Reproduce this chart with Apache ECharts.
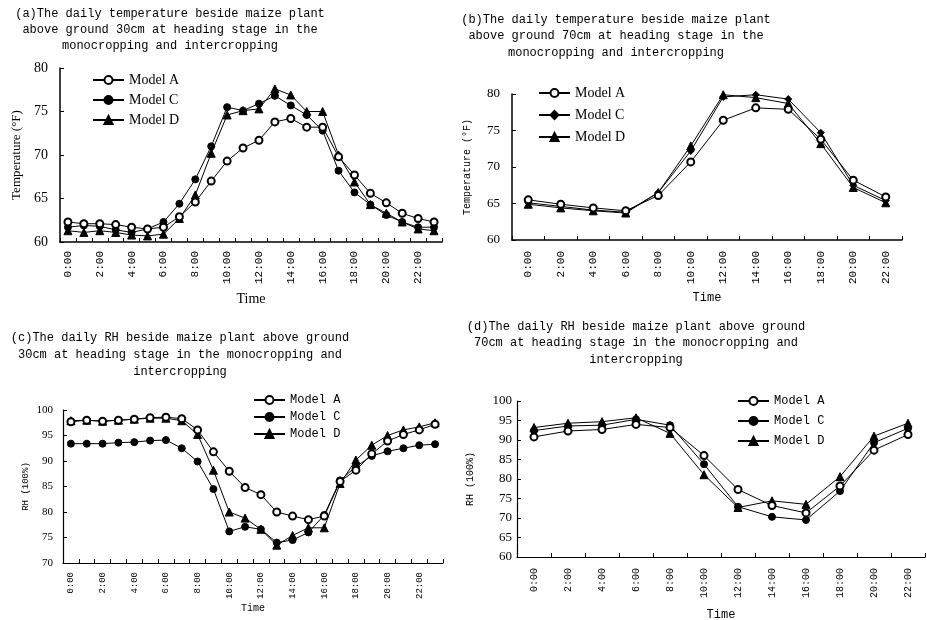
<!DOCTYPE html>
<html>
<head>
<meta charset="utf-8">
<script src="https://cdn.jsdelivr.net/npm/echarts@6/dist/echarts.min.js"></script>
<style>
  html, body { margin: 0; padding: 0; background: #fff; }
  #main { width: 927px; height: 620px; }
</style>
</head>
<body>
<div id="main"></div>
<script>
//============================================= data =============================================

var hours24 = ['0:00', '1:00', '2:00', '3:00', '4:00', '5:00', '6:00', '7:00', '8:00', '9:00', '10:00', '11:00',
    '12:00', '13:00', '14:00', '15:00', '16:00', '17:00', '18:00', '19:00', '20:00', '21:00', '22:00', '23:00'];
var hours12 = ['0:00', '2:00', '4:00', '6:00', '8:00', '10:00', '12:00', '14:00', '16:00', '18:00', '20:00', '22:00'];

// (a) temperature, 30cm
var tempA30 = [62.3, 62.1, 62.1, 62.0, 61.7, 61.5, 61.7, 62.9, 64.6, 67.0, 69.3, 70.8,
    71.7, 73.8, 74.2, 73.2, 73.2, 69.8, 67.7, 65.6, 64.5, 63.3, 62.7, 62.3];
var tempC30 = [61.7, 61.9, 61.8, 61.4, 61.1, 61.5, 62.3, 64.4, 67.2, 71.0, 75.5, 75.1,
    75.9, 76.8, 75.7, 74.6, 72.8, 68.2, 65.7, 64.3, 63.1, 62.3, 61.7, 61.7];
var tempD30 = [61.3, 61.1, 61.3, 61.1, 60.8, 60.7, 60.9, 62.7, 65.4, 70.2, 74.6, 75.1,
    75.3, 77.6, 76.9, 75.0, 75.0, 70.0, 66.9, 64.3, 63.3, 62.3, 61.5, 61.3];

// (b) temperature, 70cm
var tempA70 = [65.5, 64.9, 64.4, 64.0, 66.1, 70.7, 76.4, 78.1, 77.9, 73.8, 68.2, 65.9];
var tempC70 = [65.1, 64.6, 64.1, 63.8, 66.5, 72.2, 79.6, 79.9, 79.3, 74.7, 67.5, 65.4];
var tempD70 = [64.9, 64.4, 64.0, 63.7, 66.5, 72.9, 79.9, 79.5, 78.7, 73.2, 67.2, 65.1];

// (c) RH, 30cm
var rhA30 = [97.7, 98.0, 97.8, 98.0, 98.2, 98.5, 98.6, 98.3, 96.1, 91.8, 88.0, 84.8,
    83.4, 80.0, 79.2, 78.5, 79.2, 86.0, 88.2, 91.4, 93.9, 95.2, 96.1, 97.2];
var rhC30 = [93.4, 93.4, 93.4, 93.6, 93.7, 94.0, 94.1, 92.5, 89.9, 84.5, 76.2, 77.1,
    76.6, 74.0, 74.5, 76.0, 79.4, 86.2, 88.9, 91.0, 91.9, 92.5, 93.1, 93.3];
var rhD30 = [97.9, 98.0, 97.8, 98.0, 98.2, 98.4, 98.4, 97.9, 95.2, 88.2, 80.0, 78.8,
    76.6, 73.5, 75.4, 76.9, 76.9, 85.6, 90.2, 93.1, 95.0, 96.1, 96.7, 97.5];

// (d) RH, 70cm
var rhA70 = [90.8, 92.3, 92.7, 94.0, 93.2, 86.0, 77.3, 73.2, 71.3, 78.2, 87.4, 91.4];
var rhC70 = [92.4, 93.6, 93.8, 95.3, 93.8, 83.8, 72.9, 70.3, 69.5, 76.9, 89.3, 93.0];
var rhD70 = [93.2, 94.3, 94.7, 95.7, 91.7, 81.1, 72.7, 74.4, 73.5, 80.6, 91.0, 94.3];

var modelNames = ['Model A', 'Model C', 'Model D'];

var titles = [
    '(a)The daily temperature beside maize plant\nabove ground 30cm at heading stage in the\nmonocropping and intercropping',
    '(b)The daily temperature beside maize plant\nabove ground 70cm at heading stage in the\nmonocropping and intercropping',
    '(c)The daily RH beside maize plant above ground\n30cm at heading stage in the monocropping and\nintercropping',
    '(d)The daily RH beside maize plant above ground\n70cm at heading stage in the monocropping and\nintercropping'
];

//============================================= chart =============================================

var MONO = '"Liberation Mono", "DejaVu Sans Mono", monospace';
var SERIF = '"Liberation Serif", "DejaVu Serif", serif';

var chart = echarts.init(document.getElementById('main'), null, { renderer: 'canvas' });

// per-panel layout
var panels = [
    { key: 'a', grid: { left: 60, top: 68, width: 382, height: 174 }, cats: hours24, labelInterval: 1, axisW: 1.5,
      yMin: 60, yMax: 80, yName: 'Temperature (°F)', yNameFont: { fontFamily: SERIF, fontSize: 13 }, yNameGap: 37,
      yLabel: { fontFamily: SERIF, fontSize: 14, margin: 12 },
      xLabel: { fontFamily: MONO, fontSize: 11, margin: 9 },
      xName: 'Time', xNameFont: { fontFamily: SERIF, fontSize: 14 }, xNameGap: 50,
      title: { x: 170, top: 6, lh: 16 },
      legend: { left: 92, top: 73, font: { fontFamily: SERIF, fontSize: 14 }, gap: 6 },
      data: [tempA30, tempC30, tempD30], symbols: ['emptyCircle', 'circle', 'triangle'] },
    { key: 'b', grid: { left: 512, top: 94, width: 390, height: 146 }, cats: hours12, labelInterval: 0, axisW: 1.5,
      yMin: 60, yMax: 80, yName: 'Temperature (°F)', yNameFont: { fontFamily: MONO, fontSize: 10 }, yNameGap: 40,
      yLabel: { fontFamily: SERIF, fontSize: 13, margin: 12 },
      xLabel: { fontFamily: MONO, fontSize: 11, margin: 11 },
      xName: 'Time', xNameFont: { fontFamily: MONO, fontSize: 12 }, xNameGap: 52,
      title: { x: 616, top: 11, lh: 16.7 },
      legend: { left: 538, top: 86, font: { fontFamily: SERIF, fontSize: 14 }, gap: 8 },
      data: [tempA70, tempC70, tempD70], symbols: ['emptyCircle', 'diamond', 'triangle'] },
    { key: 'c', grid: { left: 63, top: 410, width: 380, height: 153 }, cats: hours24, labelInterval: 1, axisW: 1.2,
      yMin: 70, yMax: 100, yName: 'RH (100%)', yNameFont: { fontFamily: MONO, fontSize: 9 }, yNameGap: 33,
      yLabel: { fontFamily: SERIF, fontSize: 11, margin: 10 },
      xLabel: { fontFamily: MONO, fontSize: 9, margin: 9 },
      xName: 'Time', xNameFont: { fontFamily: MONO, fontSize: 10 }, xNameGap: 39,
      title: { x: 180, top: 329, lh: 17 },
      legend: { left: 253, top: 394, font: { fontFamily: MONO, fontSize: 12 }, gap: 5 },
      data: [rhA30, rhC30, rhD30], symbols: ['emptyCircle', 'circle', 'triangle'] },
    { key: 'd', grid: { left: 517, top: 401, width: 408, height: 156 }, cats: hours12, labelInterval: 0, axisW: 1.2,
      yMin: 60, yMax: 100, yName: 'RH (100%)', yNameFont: { fontFamily: MONO, fontSize: 10 }, yNameGap: 42,
      yLabel: { fontFamily: SERIF, fontSize: 13, margin: 5 },
      xLabel: { fontFamily: MONO, fontSize: 10, margin: 11 },
      xName: 'Time', xNameFont: { fontFamily: MONO, fontSize: 12 }, xNameGap: 52,
      title: { x: 636, top: 318, lh: 16.7 },
      legend: { left: 737, top: 395, font: { fontFamily: MONO, fontSize: 12 }, gap: 8 },
      data: [rhA70, rhC70, rhD70], symbols: ['emptyCircle', 'circle', 'triangle'] }
];

var option = {
    animation: false,
    backgroundColor: '#fff',
    title: [], grid: [], xAxis: [], yAxis: [], legend: [], series: []
};

panels.forEach(function (p, i) {
    option.title.push({
        text: titles[i],
        left: p.title.x,
        top: p.title.top,
        textAlign: 'center',
        padding: 0,
        textStyle: { fontFamily: MONO, fontSize: 12, fontWeight: 'normal', color: '#000', lineHeight: p.title.lh }
    });
    option.grid.push({
        left: p.grid.left, top: p.grid.top, width: p.grid.width, height: p.grid.height,
        containLabel: false, outerBoundsMode: 'none'
    });
    option.xAxis.push({
        type: 'category',
        gridIndex: i,
        data: p.cats,
        boundaryGap: true,
        name: p.xName,
        nameLocation: 'middle',
        nameGap: p.xNameGap,
        nameTextStyle: Object.assign({ color: '#000' }, p.xNameFont),
        axisLine: { show: true, lineStyle: { color: '#000', width: p.axisW } },
        axisTick: { show: true, inside: true, length: 4, interval: 0, lineStyle: { color: '#000' } },
        axisLabel: Object.assign({ color: '#000', rotate: 90, interval: p.labelInterval }, p.xLabel),
        splitLine: { show: false }
    });
    option.yAxis.push({
        type: 'value',
        gridIndex: i,
        min: p.yMin, max: p.yMax, interval: 5,
        name: p.yName,
        nameLocation: 'middle',
        nameRotate: 90,
        nameGap: p.yNameGap,
        nameTextStyle: Object.assign({ color: '#000' }, p.yNameFont),
        axisLine: { show: true, lineStyle: { color: '#000', width: p.axisW } },
        axisTick: { show: true, inside: true, length: 4, lineStyle: { color: '#000' } },
        axisLabel: Object.assign({ color: '#000' }, p.yLabel),
        splitLine: { show: false }
    });

    var names = modelNames.map(function (m) { return p.key + '|' + m; });
    option.legend.push({
        data: names,
        orient: 'vertical',
        left: p.legend.left,
        top: p.legend.top,
        padding: 0,
        itemWidth: 31,
        itemHeight: 10,
        itemGap: p.legend.gap,
        selectedMode: false,
        formatter: function (n) { return n.split('|')[1]; },
        textStyle: Object.assign({ color: '#000' }, p.legend.font)
    });

    p.data.forEach(function (vals, k) {
        option.series.push({
            name: names[k],
            type: 'line',
            xAxisIndex: i,
            yAxisIndex: i,
            data: vals,
            symbol: p.symbols[k],
            symbolSize: p.symbols[k] === 'triangle' ? 8 : 7,
            showAllSymbol: true,
            z: 3 - k,
            lineStyle: { color: '#000', width: 1 },
            itemStyle: { color: '#000', borderColor: '#000', borderWidth: 1 },
            emphasis: { disabled: true }
        });
    });
});

chart.setOption(option);
</script>
</body>
</html>
